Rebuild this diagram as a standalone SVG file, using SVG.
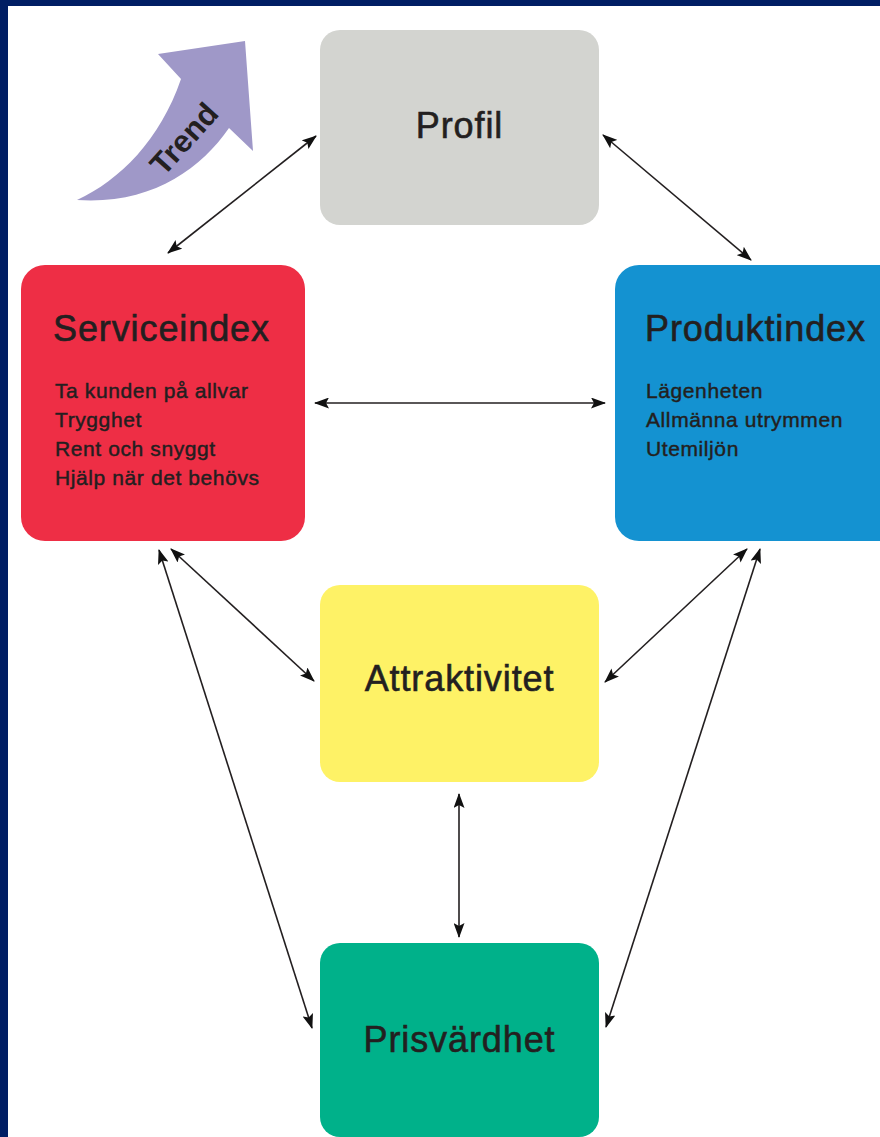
<svg xmlns="http://www.w3.org/2000/svg" width="880" height="1137" viewBox="0 0 880 1137">
<defs>
<style>
.title{font-family:"Liberation Sans",Arial,sans-serif;font-size:36px;fill:#231f20;stroke:#231f20;stroke-width:0.6px;letter-spacing:0.9px}
.sub{font-family:"Liberation Sans",Arial,sans-serif;font-size:21px;fill:#231f20;stroke:#231f20;stroke-width:0.45px;letter-spacing:0.6px}
.conn{stroke:#231f20;stroke-width:1.6;fill:none;marker-start:url(#ah);marker-end:url(#ah)}
</style>
<marker id="ah" viewBox="0 0 15 11" refX="14" refY="5.5" markerWidth="15" markerHeight="11" markerUnits="userSpaceOnUse" orient="auto-start-reverse">
<path d="M0,0 L15,5.5 L0,11 L3,5.5 Z" fill="#111"/>
</marker>
</defs>
<rect x="0" y="0" width="880" height="1137" fill="#ffffff"/>
<rect x="0" y="0" width="880" height="6" fill="#001e64"/>
<rect x="0" y="0" width="8" height="1137" fill="#001e64"/>

<g id="trend">
<path d="M77,200 C120,180 160,140 181,79 L158,54 L245,41 L253,151 L229,128 C200,170 150,205 77,200 Z" fill="#9f98c8"/>
<text x="0" y="0" transform="translate(192,146) rotate(-48)" text-anchor="middle" font-family="Liberation Sans,Arial,sans-serif" font-size="31" font-weight="bold" fill="#231f20">Trend</text>
</g>

<g id="profil">
<rect x="320" y="30" width="279" height="195" rx="20" fill="#d3d4d0"/>
<text class="title" x="459.5" y="138" text-anchor="middle">Profil</text>
</g>

<g id="serviceindex">
<rect x="21" y="265" width="284" height="276" rx="24" fill="#ee2e45"/>
<text class="title" x="53" y="341">Serviceindex</text>
<text class="sub" x="55" y="398">Ta kunden på allvar</text>
<text class="sub" x="55" y="427">Trygghet</text>
<text class="sub" x="55" y="456">Rent och snyggt</text>
<text class="sub" x="55" y="485">Hjälp när det behövs</text>
</g>

<g id="produktindex">
<rect x="615" y="265" width="300" height="276" rx="24" fill="#1492d1"/>
<text class="title" x="645" y="341">Produktindex</text>
<text class="sub" x="646" y="398">Lägenheten</text>
<text class="sub" x="646" y="427">Allmänna utrymmen</text>
<text class="sub" x="646" y="456">Utemiljön</text>
</g>

<g id="attraktivitet">
<rect x="320" y="585" width="279" height="197" rx="20" fill="#fef266"/>
<text class="title" x="459.5" y="691" text-anchor="middle">Attraktivitet</text>
</g>

<g id="prisvardhet">
<rect x="320" y="943" width="279" height="194" rx="20" fill="#00b18a"/>
<text class="title" x="459.5" y="1052" text-anchor="middle">Prisvärdhet</text>
</g>

<g id="connectors">
<line class="conn" x1="168" y1="253" x2="316" y2="136"/>
<line class="conn" x1="603" y1="135" x2="751" y2="260"/>
<line class="conn" x1="315" y1="403" x2="605" y2="403"/>
<line class="conn" x1="171" y1="549" x2="314" y2="681"/>
<line class="conn" x1="159" y1="550" x2="312" y2="1028"/>
<line class="conn" x1="747" y1="549" x2="605" y2="682"/>
<line class="conn" x1="760" y1="549" x2="606" y2="1027"/>
<line class="conn" x1="459" y1="794" x2="459" y2="937"/>
</g>
</svg>
